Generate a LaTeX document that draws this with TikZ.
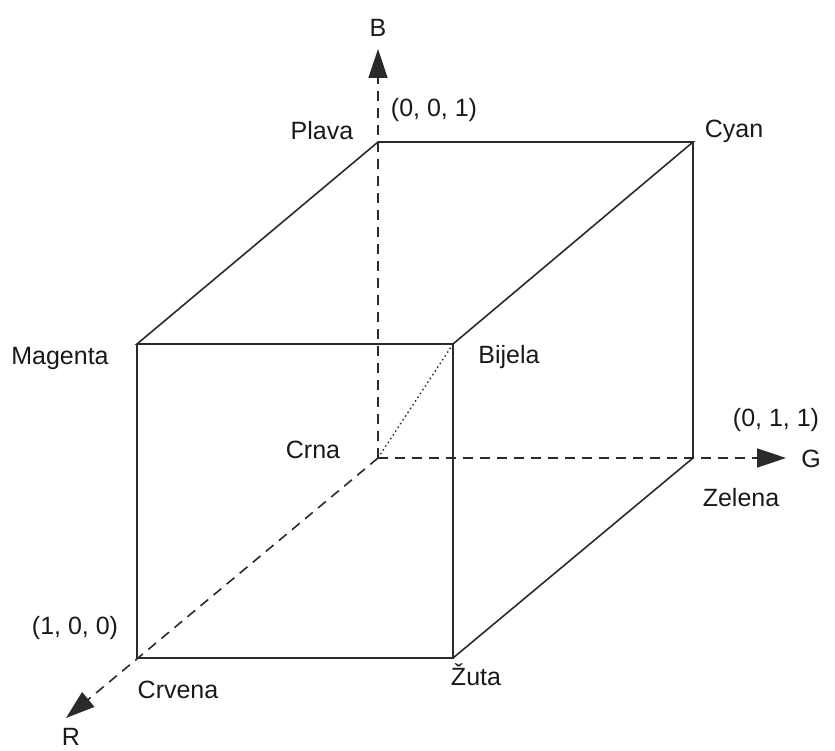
\documentclass[tikz,border=0pt]{standalone}
\usepackage{fontspec}
\setmainfont{Liberation Sans}
\usetikzlibrary{arrows.meta}
\definecolor{ln}{HTML}{2A2A2A}
\tikzset{
  edge/.style={draw=ln, line width=1.6pt},
  axis/.style={draw=ln, line width=1.6pt, dash pattern=on 10pt off 7pt},
  axarrow/.style={-{Triangle[length=29pt,width=19pt]}},
  diag/.style={draw=ln, line width=1.4pt, dash pattern=on 1.5pt off 3pt},
  lbl/.style={font=\fontsize{25}{30}\selectfont, text=black!90, inner sep=0pt}
}
\begin{document}
\begin{tikzpicture}[x=1pt,y=-1pt]
\useasboundingbox (0,0) rectangle (835,751);
% corners
\coordinate (K) at (378,458);   % Crna
\coordinate (Bl) at (378,142);  % Plava
\coordinate (C) at (693,142);   % Cyan
\coordinate (Gr) at (693,458);  % Zelena
\coordinate (M) at (137,344);   % Magenta
\coordinate (W) at (453,344);   % Bijela
\coordinate (Rd) at (137,658);  % Crvena
\coordinate (Y) at (453,658);   % Zuta
\coordinate (Btip) at (378,49);
\coordinate (Gtip) at (786,458);
\coordinate (Rtip) at (66,718);
% axes
\draw[axis,axarrow] (K) -- (Btip);
\draw[axis,axarrow] (K) -- (Gtip);
\draw[axis,axarrow] (K) -- (Rtip);
% diagonal
\draw[diag] (K) -- (W);
% cube edges
\draw[edge] (M) -- (Bl) -- (C) -- (W) -- cycle;
\draw[edge] (M) -- (Rd) -- (Y) -- (W);
\draw[edge] (C) -- (Gr) -- (Y);
% labels
\node[lbl] (lB) at (378,28) {B};
\node[lbl] (lG) at (811,459) {G};
\node[lbl] (lR) at (71,737) {R};
\node[lbl] (l001) at (434,110) {(0, 0, 1)};
\node[lbl] (l011) at (776,420) {(0, 1, 1)};
\node[lbl] (l100) at (75,628) {(1, 0, 0)};
\node[lbl] (lPlava) at (322,131) {Plava};
\node[lbl] (lCyan) at (734,131) {Cyan};
\node[lbl] (lMagenta) at (60,358) {Magenta};
\node[lbl] (lBijela) at (509,357) {Bijela};
\node[lbl] (lCrna) at (313,450) {Crna};
\node[lbl] (lZelena) at (741,498) {Zelena};
\node[lbl] (lCrvena) at (178,690) {Crvena};
\node[lbl] (lZuta) at (476,675) {Žuta};
\end{tikzpicture}
\end{document}
